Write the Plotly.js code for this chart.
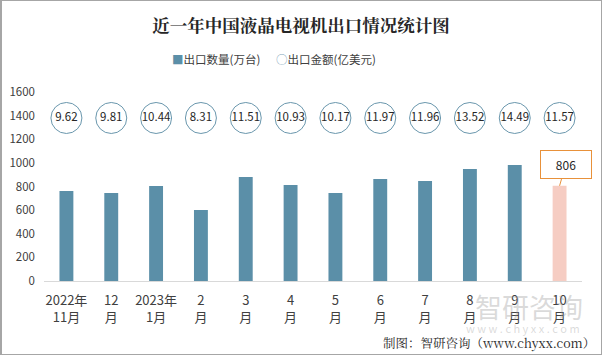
<!DOCTYPE html>
<html>
<head>
<meta charset="utf-8">
<script src="https://cdn.plot.ly/plotly-3.0.1.min.js"></script>
<style>
html,body{margin:0;padding:0;background:#fff;}
#wrap{position:relative;width:602px;height:355px;}
#chart{width:602px;height:355px;}
#frame{position:absolute;left:0;top:0;width:602px;height:355px;box-sizing:border-box;border:1px solid #a6a6a6;border-left-width:2px;pointer-events:none;}
</style>
</head>
<body>
<div id="wrap"><div id="chart"></div><div id="frame"></div></div>
<script>
const categories = ["2022年<br>11月","12<br>月","2023年<br>1月","2<br>月","3<br>月","4<br>月","5<br>月","6<br>月","7<br>月","8<br>月","9<br>月","10<br>月"];
const exportQty = [762, 745, 805, 601, 881, 813, 745, 864, 847, 949, 983, 806];   // 万台
const exportValue = [9.62, 9.81, 10.44, 8.31, 11.51, 10.93, 10.17, 11.97, 11.96, 13.52, 14.49, 11.57]; // 亿美元
const valueLabels = exportValue.map(v => v.toFixed(2));
const circleRow = exportValue.map(() => 1380);
const seriesNames = ["出口数量(万台)", "出口金额(亿美元)"];

const barColor = "#5b8fa8", highlightColor = "#f6cdc3", circleColor = "#6a97ad";
const barColors = exportQty.map((v, i) => i === exportQty.length - 1 ? highlightColor : barColor);
const font = "'Noto Sans CJK SC', 'Noto Sans', sans-serif";

const traces = [
  {
    type: "bar", name: seriesNames[0], x: categories, y: exportQty,
    marker: {color: barColors}, hoverinfo: "y"
  },
  {
    type: "scatter", mode: "markers+text", name: seriesNames[1],
    x: categories, y: circleRow, text: valueLabels, textposition: "middle center",
    textfont: {size: 11.5, color: "#262626", family: font},
    marker: {symbol: "circle-open", size: 31, color: circleColor, line: {width: 1, color: circleColor}},
    cliponaxis: false
  }
];

const layout = {
  width: 602, height: 355,
  margin: {l: 44, r: 20, t: 92, b: 74},
  paper_bgcolor: "#fff", plot_bgcolor: "#fff",
  font: {family: font, color: "#404040", size: 12},
  title: {text: "<b>近一年中国液晶电视机出口情况统计图</b>", x: 0.5, xanchor: "center", y: 0.927, yanchor: "middle",
          font: {family: "'Noto Serif CJK SC', 'Noto Sans CJK SC', serif", size: 17.5, color: "#262626"}},
  showlegend: false,
  bargap: 0.69,
  xaxis: {type: "category", range: [-0.5, 11.5], showgrid: false, showline: true, linecolor: "#d9d9d9", linewidth: 1,
          ticks: "", tickfont: {size: 13, color: "#404040"}, ticklabelstandoff: 7, fixedrange: true},
  yaxis: {range: [0, 1600], dtick: 200, showgrid: false, zeroline: false, showline: false,
          ticks: "", tickfont: {size: 11.5, color: "#404040"}, ticklabelstandoff: 8, fixedrange: true},
  annotations: [
    {x: categories[categories.length - 1], y: exportQty[exportQty.length - 1], xref: "x", yref: "y",
     text: String(exportQty[exportQty.length - 1]), showarrow: true, arrowhead: 0, arrowwidth: 1,
     arrowcolor: "#e8913a", ax: 6, ay: -21, bordercolor: "#e8913a", borderwidth: 1, borderpad: 5,
     bgcolor: "#fff", width: 40, font: {size: 12, color: "#262626"}},
    // legend (custom, to match compact spacing)
    {x: 170, y: 59, xref: "paper", yref: "paper", xanchor: "left", yanchor: "middle", showarrow: false,
     text: "<span style='color:" + barColor + "'>■</span>" + seriesNames[0], font: {size: 11.5, color: "#404040"}},
    {x: 274, y: 59, xref: "paper", yref: "paper", xanchor: "left", yanchor: "middle", showarrow: false,
     text: "<span style='color:#7fa6bb'>○</span>" + seriesNames[1], font: {size: 11.5, color: "#404040"}},
    // watermark and source
    {x: 585, y: 306, xref: "paper", yref: "paper", xanchor: "right", yanchor: "middle",
     text: "智研咨询", showarrow: false, font: {size: 27, color: "rgba(150,150,150,0.35)"}},
    {x: 582, y: 328, xref: "paper", yref: "paper", xanchor: "right", yanchor: "middle",
     text: "w w w . c h y x x . c o m", showarrow: false, font: {size: 11, color: "rgba(150,150,150,0.35)"}},
    {x: 597, y: 343, xref: "paper", yref: "paper", xanchor: "right", yanchor: "middle",
     text: "制图：智研咨询（www.chyxx.com）", showarrow: false,
     font: {size: 12.5, color: "#262626", family: "'Noto Serif CJK SC', 'Noto Sans CJK SC', serif"}}
  ]
};
// convert pixel placements of legend/watermark/source notes into paper coordinates
const pw = 602 - layout.margin.l - layout.margin.r, ph = 355 - layout.margin.t - layout.margin.b;
layout.annotations.slice(1).forEach(a => {
  a.x = (a.x - layout.margin.l) / pw;
  a.y = (355 - layout.margin.b - a.y) / ph;
});

Plotly.newPlot("chart", traces, layout, {displayModeBar: false, staticPlot: true});
</script>
</body>
</html>
